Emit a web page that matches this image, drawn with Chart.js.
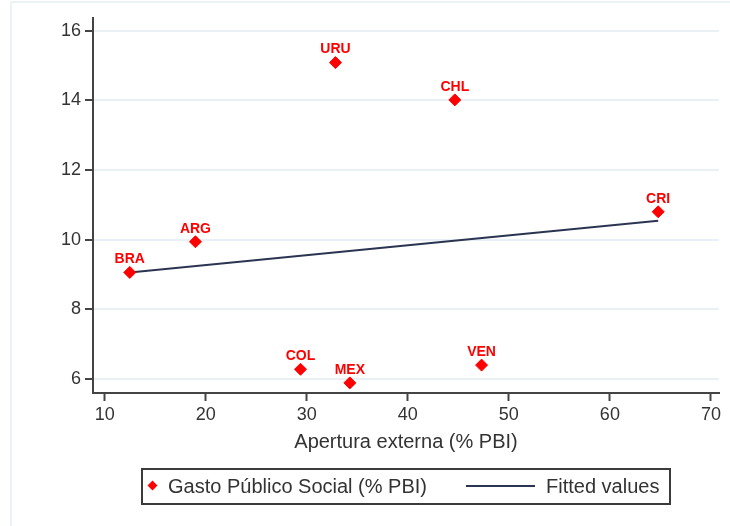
<!DOCTYPE html>
<html>
<head>
<meta charset="utf-8">
<script src="https://cdn.jsdelivr.net/npm/chart.js@4.4.1/dist/chart.umd.min.js"></script>
<style>
  body { margin: 0; background: #fff; }
  #wrap { position: relative; width: 730px; height: 526px; overflow: hidden; }
  #frame { position: absolute; left: 10px; top: 1px; right: -4px; bottom: -4px;
    border-left: 2px solid #edf2f7; border-top: 2px solid #edf2f7; }
  #legend { position: absolute; left: 141px; top: 468px; width: 526px; height: 33px;
    border: 2px solid #3b3b3b; font: 20px "Liberation Sans", Arial, sans-serif; color: #333; }
  #legend .dia { position: absolute; left: 6px; top: 12px; width: 7px; height: 7px;
    background: #ff0000; transform: rotate(45deg); }
  #legend .txt1 { position: absolute; left: 25px; top: 5px; }
  #legend .ln { position: absolute; left: 323px; top: 15px; width: 69px; height: 2px; background: #2b3552; }
  #legend .txt2 { position: absolute; left: 403px; top: 5px; }
  canvas { position: absolute; left: 0; top: 0; }
</style>
</head>
<body>
<div id="wrap">
  <div id="frame"></div>
  <canvas id="c" width="730" height="526"></canvas>
  <div id="legend">
    <span class="dia"></span><span class="txt1">Gasto Público Social (% PBI)</span>
    <span class="ln"></span><span class="txt2">Fitted values</span>
  </div>
</div>
<script>
// countries and values
var countries = ['BRA', 'ARG', 'URU', 'CHL', 'CRI', 'COL', 'MEX', 'VEN'];
var apertura = [12.48, 18.98, 32.84, 44.65, 64.78, 29.38, 34.26, 47.3];
var gasto = [9.06, 9.94, 15.08, 14.01, 10.80, 6.28, 5.89, 6.40];

// fitted line end points
var fitX = [12.48, 64.78];
var fitY = [9.06, 10.54];

var xTicks = [10, 20, 30, 40, 50, 60, 70];
var yTicks = [6, 8, 10, 12, 14, 16];

var font = '"Liberation Sans", Arial, sans-serif';

// country codes drawn above each diamond
var pointLabels = {
  id: 'pointLabels',
  afterDatasetsDraw: function(chart) {
    var ctx = chart.ctx;
    var meta = chart.getDatasetMeta(0);
    ctx.save();
    ctx.font = 'bold 14px ' + font;
    ctx.fillStyle = '#ff0000';
    ctx.textAlign = 'center';
    ctx.textBaseline = 'middle';
    meta.data.forEach(function(pt, i) {
      ctx.fillText(countries[i], pt.x, pt.y - 13);
    });
    ctx.restore();
  }
};

var ctx = document.getElementById('c').getContext('2d');

new Chart(ctx, {
  type: 'scatter',
  data: {
    datasets: [{
      label: 'Gasto Público Social (% PBI)',
      data: apertura.map(function(x, i) { return { x: x, y: gasto[i] }; }),
      pointStyle: 'rectRot',
      pointRadius: 6,
      pointBackgroundColor: '#ff0000',
      pointBorderColor: '#ff0000',
      pointBorderWidth: 1
    }, {
      label: 'Fitted values',
      data: fitX.map(function(x, i) { return { x: x, y: fitY[i] }; }),
      showLine: true,
      borderColor: '#2b3552',
      borderWidth: 2,
      pointRadius: 0
    }]
  },
  options: {
    responsive: false,
    animation: false,
    layout: { padding: { left: 0, right: 11, top: 18, bottom: 72 } },
    scales: {
      x: {
        type: 'linear',
        min: 8.84,
        max: 70.8,
        afterBuildTicks: function(scale) {
          scale.ticks = xTicks.map(function(v) { return { value: v }; });
        },
        afterFit: function(scale) { scale.height = 61; },
        border: { color: '#444', width: 2 },
        grid: { drawOnChartArea: false, tickColor: '#444', tickLength: 8, tickWidth: 2 },
        ticks: { color: '#333', padding: 3, maxRotation: 0, font: { family: font, size: 18 } },
        title: {
          display: true,
          text: 'Apertura externa (% PBI)',
          color: '#333',
          padding: { top: 0, bottom: 0 },
          font: { family: font, size: 20 }
        }
      },
      y: {
        min: 5.6,
        max: 16.36,
        afterBuildTicks: function(scale) {
          scale.ticks = yTicks.map(function(v) { return { value: v }; });
        },
        afterFit: function(scale) { scale.width = 93; },
        border: { color: '#444', width: 2 },
        grid: { color: '#e9f0f6', lineWidth: 2, tickColor: '#444', tickLength: 8, tickWidth: 2 },
        ticks: { color: '#333', padding: 4, font: { family: font, size: 18 } }
      }
    },
    plugins: {
      legend: { display: false },
      tooltip: { enabled: false }
    }
  },
  plugins: [pointLabels]
});
</script>
</body>
</html>
